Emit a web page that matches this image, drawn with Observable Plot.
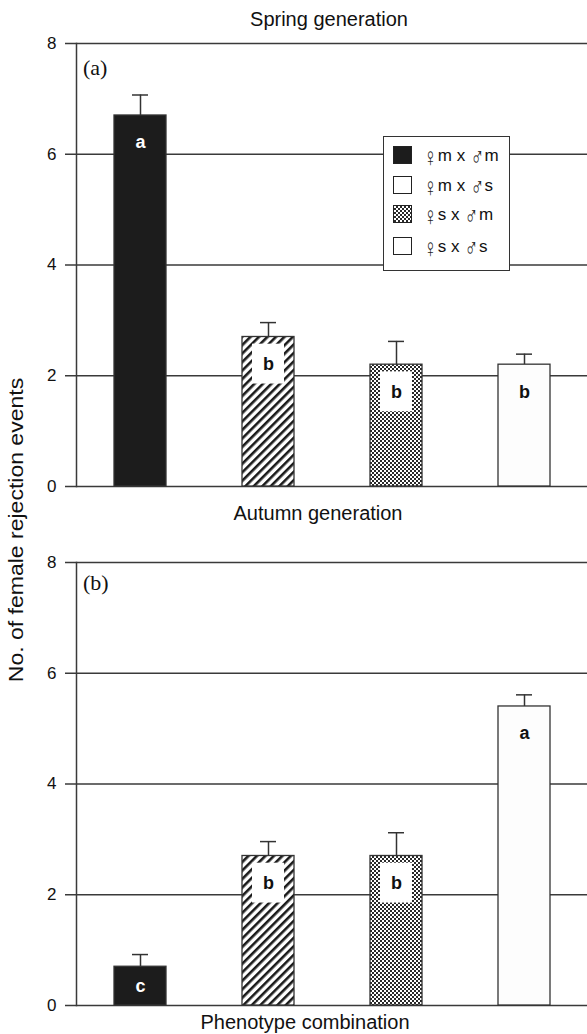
<!DOCTYPE html>
<html>
<head>
<meta charset="utf-8">
<script src="https://cdn.jsdelivr.net/npm/d3@7"></script>
<script src="https://cdn.jsdelivr.net/npm/@observablehq/plot@0.6"></script>
<style>
  html, body { margin: 0; padding: 0; background: #fff; }
  body { font-family: "Liberation Sans", Arial, sans-serif; color: #111; }
  #fig { position: relative; width: 587px; height: 1034px; overflow: hidden; }
  .title { position: absolute; font-size: 20px; white-space: nowrap; transform: translate(-50%, -50%); }
  .plabel { position: absolute; font-family: "Liberation Serif", "Times New Roman", serif; font-size: 22px; }
  #ylab { position: absolute; left: 16px; top: 530px; font-size: 20px; white-space: nowrap;
          transform: translate(-50%, -50%) rotate(-90deg) scaleX(1.15); }
  #legend { position: absolute; left: 383px; top: 136px; width: 127px; height: 135px;
            border: 1.5px solid #333; background: #fff; box-sizing: border-box; }
  .lrow { position: absolute; left: 9px; height: 20px; display: flex; align-items: center; font-size: 17px; line-height: 20px; }
  .sw { width: 19px; height: 18px; border: 1.3px solid #222; box-sizing: border-box; margin-right: 11px; flex: none; }
  .sym { display: inline-block; font-family: "DejaVu Sans", sans-serif; font-size: 17px; font-weight: 200; color: #222;
         transform: scale(1.05, 1.55) translateY(1px); line-height: 20px; margin: 0 1px; }
</style>
</head>
<body>
<div id="fig"></div>
<script>
// ---- data ----
const categories = ["♀m x ♂m", "♀m x ♂s", "♀s x ♂m", "♀s x ♂s"];
const springMeans = [6.7, 2.7, 2.2, 2.2];
const springSE = [0.37, 0.26, 0.42, 0.19];
const springLetters = ["a", "b", "b", "b"];
const autumnMeans = [0.7, 2.7, 2.7, 5.4];
const autumnSE = [0.22, 0.26, 0.42, 0.21];
const autumnLetters = ["c", "b", "b", "a"];
const yTicks = [0, 2, 4, 6, 8];
const legendSwatches = ["#1c1c1c", "#ffffff", "check", "#ffffff"];
const barFills = ["#1c1c1c", "url(#hatch)", "url(#check)", "#fdfdfd"];

const fig = document.getElementById("fig");

// pattern definitions
const defsSvg = d3.select(fig).append("svg").attr("width", 0).attr("height", 0).style("position", "absolute");
const defs = defsSvg.append("defs");
const hatch = defs.append("pattern").attr("id", "hatch").attr("patternUnits", "userSpaceOnUse")
  .attr("width", 6).attr("height", 6).attr("patternTransform", "rotate(45)");
hatch.append("rect").attr("width", 6).attr("height", 6).attr("fill", "#fff");
hatch.append("rect").attr("x", 0).attr("y", 0).attr("width", 2.6).attr("height", 6).attr("fill", "#1a1a1a");
const check = defs.append("pattern").attr("id", "check").attr("patternUnits", "userSpaceOnUse")
  .attr("width", 4).attr("height", 4);
check.append("rect").attr("width", 4).attr("height", 4).attr("fill", "#fff");
check.append("rect").attr("x", 0).attr("y", 0).attr("width", 2).attr("height", 2).attr("fill", "#2a2a2a");
check.append("rect").attr("x", 2).attr("y", 2).attr("width", 2).attr("height", 2).attr("fill", "#2a2a2a");

function panel(means, se, letters, {height, marginTop, marginBottom}) {
  const data = categories.map((c, i) => ({
    cat: c, idx: i, mean: means[i], hi: means[i] + se[i], letter: letters[i],
    ly: Math.max(means[i] - 0.49, means[i] / 2)
  }));
  return Plot.plot({
    width: 587, height, marginLeft: 76, marginRight: 0, marginTop, marginBottom,
    style: { fontFamily: "Liberation Sans, Arial, sans-serif", fontSize: "17px", color: "#111", background: "transparent" },
    x: { domain: categories, paddingInner: 0.594, paddingOuter: 0.29, axis: null },
    y: { domain: [0, 8], label: null },
    color: { domain: categories, range: barFills },
    marks: [
      Plot.ruleY(yTicks, { stroke: "#3a3a3a", strokeWidth: 1.5, insetLeft: -11 }),
      Plot.axisY(yTicks, { tickSize: 0, tickPadding: 20, tickFormat: d => String(d), fill: "#111", label: null, fontSize: 17 }),
      Plot.frame({ anchor: "left", stroke: "#3a3a3a", strokeWidth: 1.5 }),
      Plot.ruleX(data, { x: "cat", y1: "mean", y2: "hi", stroke: "#333", strokeWidth: 1.5 }),
      Plot.tickY(data, { x: "cat", y: "hi", stroke: "#333", strokeWidth: 1.5, insetLeft: 18, insetRight: 18 }),
      Plot.barY(data, { x: "cat", y: "mean", fill: "cat", stroke: "#333", strokeWidth: 1.3 }),
      Plot.barY(data.filter(d => d.idx === 1 || d.idx === 2), {
        x: "cat", y1: d => d.mean - 0.13, y2: d => d.mean - 0.85, fill: "#fff", insetLeft: 10, insetRight: 10
      }),
      Plot.text(data.filter(d => d.idx === 0), { x: "cat", y: "ly", text: "letter", fill: "#fff", fontWeight: "bold", fontSize: 18 }),
      Plot.text(data.filter(d => d.idx !== 0), { x: "cat", y: "ly", text: "letter", fill: "#111", fontWeight: "bold", fontSize: 18 })
    ]
  });
}

const pa = panel(springMeans, springSE, springLetters, { height: 500, marginTop: 43, marginBottom: 14 });
pa.style.position = "absolute"; pa.style.left = "0px"; pa.style.top = "0px";
fig.appendChild(pa);

const pb = panel(autumnMeans, autumnSE, autumnLetters, { height: 534, marginTop: 62, marginBottom: 29 });
pb.style.position = "absolute"; pb.style.left = "0px"; pb.style.top = "500px";
fig.appendChild(pb);

function addDiv(cls, text, css) {
  const d = document.createElement("div");
  if (cls) d.className = cls;
  d.textContent = text;
  Object.assign(d.style, css || {});
  fig.appendChild(d);
  return d;
}
addDiv("title", "Spring generation", { left: "329px", top: "19px" });
addDiv("title", "Autumn generation", { left: "318px", top: "513px" });
addDiv("title", "Phenotype combination", { left: "305px", top: "1022px" });
addDiv("plabel", "(a)", { left: "83px", top: "55px" });
addDiv("plabel", "(b)", { left: "83px", top: "570px" });
const yl = document.createElement("div"); yl.id = "ylab"; yl.textContent = "No. of female rejection events"; fig.appendChild(yl);

// legend
const leg = document.createElement("div"); leg.id = "legend"; fig.appendChild(leg);
const rowTops = [8, 38, 67, 99];
categories.forEach((c, i) => {
  const row = document.createElement("div"); row.className = "lrow"; row.style.top = rowTops[i] + "px";
  const sw = document.createElement("div"); sw.className = "sw";
  if (legendSwatches[i] === "check") {
    sw.style.background = "repeating-conic-gradient(#2a2a2a 0 25%, #fff 0 50%) 0 0 / 4px 4px";
  } else {
    sw.style.background = legendSwatches[i];
  }
  const lab = document.createElement("span");
  // split the label so the sex symbols get a font that has them at full size
  c.split(/([♀♂])/).filter(s => s).forEach(part => {
    const s = document.createElement("span");
    s.textContent = part;
    if (part === "♀" || part === "♂") s.className = "sym";
    lab.appendChild(s);
  });
  row.appendChild(sw); row.appendChild(lab); leg.appendChild(row);
});
</script>
</body>
</html>
